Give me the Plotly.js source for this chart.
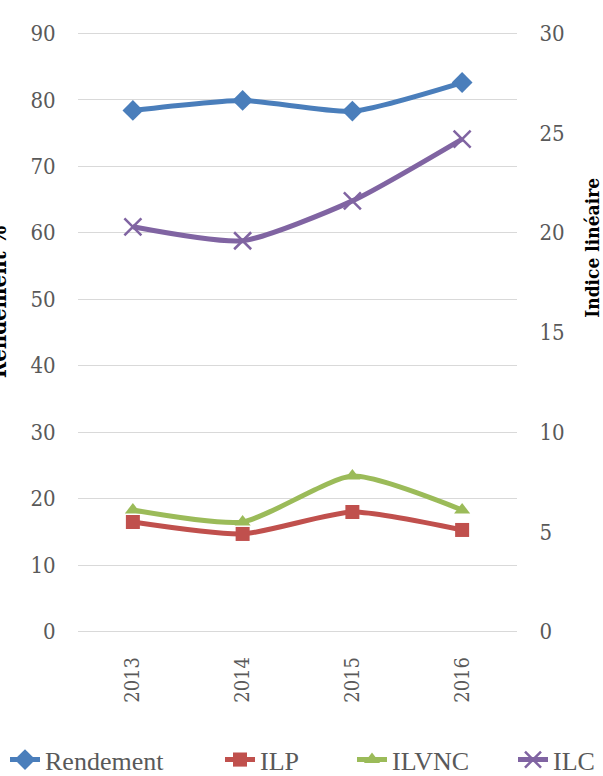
<!DOCTYPE html>
<html>
<head>
<meta charset="utf-8">
<script src="https://cdn.plot.ly/plotly-3.0.1.min.js"></script>
<style>html,body{margin:0;padding:0;background:#fff;}#chart{width:603px;height:776px;}</style>
</head>
<body>
<div id="chart"></div>
<script>
var years = ["2013", "2014", "2015", "2016"];
var rendement = [78.4, 79.9, 78.3, 82.6];
var ilp = [5.5, 4.9, 6.0, 5.1];
var ilvnc = [6.1, 5.5, 7.8, 6.1];
var ilc = [20.3, 19.6, 21.6, 24.7];

var serifC = "DejaVu Serif Condensed, Liberation Serif, serif";
var serif = "Liberation Serif, DejaVu Serif, serif";
var gray = "#595959";

function tr(name, y, axis, color, symbol, msize, leg) {
  return {
    x: years, y: y, name: name, yaxis: axis, legend: leg, type: "scatter", mode: "lines+markers",
    line: {color: color, width: 5, shape: "spline", smoothing: 0.6},
    marker: {symbol: symbol, size: msize, color: color, line: {color: color, width: symbol === "x-thin" ? 2.5 : 0}}
  };
}

var data = [
  tr("Rendement", rendement, "y", "#4A7EBB", "diamond", 16, "legend"),
  tr("ILP", ilp, "y2", "#C0504D", "square", 14, "legend"),
  tr("ILVNC", ilvnc, "y2", "#9BBB59", "triangle-up", 14, "legend2"),
  tr("ILC", ilc, "y2", "#8064A2", "x-thin", 17, "legend2")
];

var legFont = {family: serif, size: 26, color: gray};

var layout = {
  width: 603, height: 776,
  margin: {l: 78, r: 86, t: 30, b: 141, autoexpand: false},
  paper_bgcolor: "#fff", plot_bgcolor: "#fff",
  showlegend: true,
  legend: {orientation: "h", xref: "container", yref: "container", x: 5 / 603, xanchor: "left",
           y: 0.021, yanchor: "middle", font: legFont, traceorder: "normal",
           entrywidth: 170, entrywidthmode: "pixels"},
  legend2: {orientation: "h", xref: "container", yref: "container", x: 352 / 603, xanchor: "left",
           y: 0.021, yanchor: "middle", font: legFont, traceorder: "normal",
           entrywidth: 116, entrywidthmode: "pixels"},
  xaxis: {type: "category", range: [-0.5, 3.5], tickangle: -90, showgrid: false, zeroline: false,
          showline: false, ticks: "outside", ticklen: 13, tickcolor: "rgba(0,0,0,0)",
          tickfont: {family: serifC, size: 20, color: gray}, fixedrange: true},
  yaxis: {range: [-0.5, 90.5], tick0: 0, dtick: 10, showgrid: true, gridcolor: "#D9D9D9", gridwidth: 1,
          zeroline: false, showline: false, ticks: "outside", ticklen: 17, tickcolor: "rgba(0,0,0,0)",
          tickfont: {family: serifC, size: 22, color: gray}},
  yaxis2: {range: [-0.5 / 3, 30 + 0.5 / 3], tick0: 0, dtick: 5, overlaying: "y", side: "right", showgrid: false, zeroline: false,
           showline: false, ticks: "outside", ticklen: 17, tickcolor: "rgba(0,0,0,0)",
           tickfont: {family: serifC, size: 22, color: gray}},
  annotations: [
    {text: "<b>Indice linéaire</b>", xref: "paper", yref: "paper", x: 1, y: 0.64, xanchor: "center", yanchor: "middle",
     xshift: 75, textangle: -90, showarrow: false, font: {family: serifC, size: 19, color: "#000"}},
    {text: "<b>Rendement %</b>", xref: "paper", yref: "paper", x: 0, y: 0.55, xanchor: "center", yanchor: "middle",
     xshift: -80, textangle: -90, showarrow: false, font: {family: serifC, size: 22, color: "#000"}}
  ]
};

Plotly.newPlot("chart", data, layout, {displayModeBar: false, staticPlot: true});
</script>
</body>
</html>
